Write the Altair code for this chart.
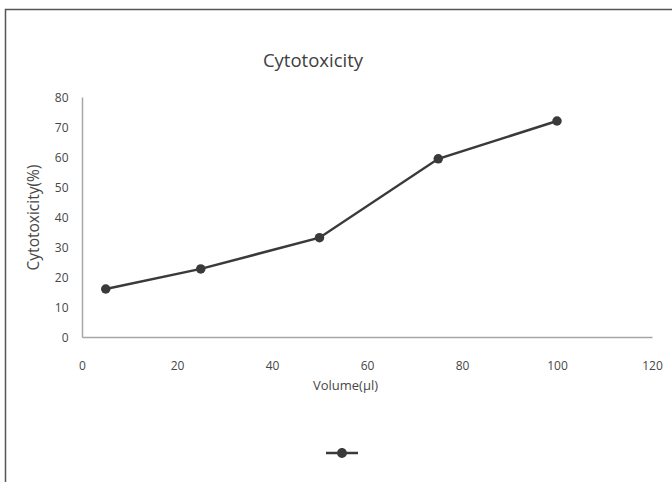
import altair as alt
import pandas as pd

volume = [5, 25, 50, 75, 100]
cytotoxicity = [16.0, 22.7, 33.1, 59.4, 72.0]
series = ["Series1"] * 5
x_ticks = [0, 20, 40, 60, 80, 100, 120]
y_ticks = [0, 10, 20, 30, 40, 50, 60, 70, 80]

df = pd.DataFrame({"Volume": volume, "Cytotoxicity": cytotoxicity, "Series": series})

FONT = "Open Sans"
LINE_COLOR = "#3a3a3a"
TEXT_COLOR = "#474747"

legend_path = (
    "M-1,-0.08L-0.28,-0.08L-0.28,0.08L-1,0.08Z "
    "M0.28,-0.08L1,-0.08L1,0.08L0.28,0.08Z "
    "M0.31,0A0.31,0.31,0,1,1,-0.31,0A0.31,0.31,0,1,1,0.31,0Z"
)

x_enc = alt.X(
    "Volume:Q",
    scale=alt.Scale(domain=[0, 120], nice=False),
    axis=alt.Axis(
        values=x_ticks,
        title="Volume(µl)",
        grid=False,
        ticks=False,
        tickSize=0,
        labelOverlap=False,
        labelFlush=False,
        domainColor="#a6a6a6",
        domainWidth=1.5,
        labelFont=FONT,
        labelFontSize=12,
        labelColor=TEXT_COLOR,
        labelBaseline="middle",
        labelPadding=28,
        titleFont=FONT,
        titleFontSize=13,
        titleFontWeight="normal",
        titleColor=TEXT_COLOR,
        titleX=263,
        titleY=48,
        titleBaseline="middle",
        titleAlign="center",
    ),
)
y_enc = alt.Y(
    "Cytotoxicity:Q",
    scale=alt.Scale(domain=[0, 80], nice=False),
    axis=alt.Axis(
        values=y_ticks,
        title="Cytotoxicity(%)",
        grid=False,
        ticks=False,
        tickSize=0,
        labelOverlap=False,
        labelFlush=False,
        domainColor="#a6a6a6",
        domainWidth=1.5,
        labelFont=FONT,
        labelFontSize=12,
        labelColor=TEXT_COLOR,
        labelPadding=14,
        titleFont=FONT,
        titleFontSize=15.5,
        titleFontWeight="normal",
        titleColor=TEXT_COLOR,
        titleX=-49,
        titleY=120,
        titleAngle=270,
        titleBaseline="middle",
        titleAlign="center",
    ),
)

color_enc = alt.Color(
    "Series:N",
    scale=alt.Scale(range=[LINE_COLOR]),
    legend=alt.Legend(
        title=None,
        orient="none",
        legendX=244,
        legendY=340,
        symbolType=legend_path,
        symbolSize=1024,
        symbolFillColor=LINE_COLOR,
        symbolStrokeWidth=0,
        labelExpr="''",
        padding=0,
    ),
)

line = alt.Chart(df).mark_line(
    strokeWidth=2.5,
    point=alt.OverlayMarkDef(filled=True, size=90, opacity=1, color=LINE_COLOR),
).encode(x=x_enc, y=y_enc, color=color_enc)

frame = alt.Chart(pd.DataFrame({"f": [0]})).mark_rect(
    filled=False, stroke="#555555", strokeWidth=1.5
).encode(
    x=alt.value(-76.5), x2=alt.value(640), y=alt.value(-87.5), y2=alt.value(420)
)

chart = alt.layer(frame, line).properties(
    width=570,
    height=240,
    padding={"left": 82, "top": 97, "right": 20, "bottom": 145},
    autosize=alt.AutoSizeParams(type="none"),
    background="white",
    title=alt.TitleParams(
        "Cytotoxicity",
        font=FONT,
        fontSize=18.5,
        fontWeight="normal",
        color="#404040",
        anchor="middle",
        frame="group",
        baseline="alphabetic",
        dx=-54,
        dy=77,
        offset=0,
    ),
).configure_view(strokeWidth=0, stroke="transparent")

chart.save("out.html", embed_options={"renderer": "svg", "actions": False})
